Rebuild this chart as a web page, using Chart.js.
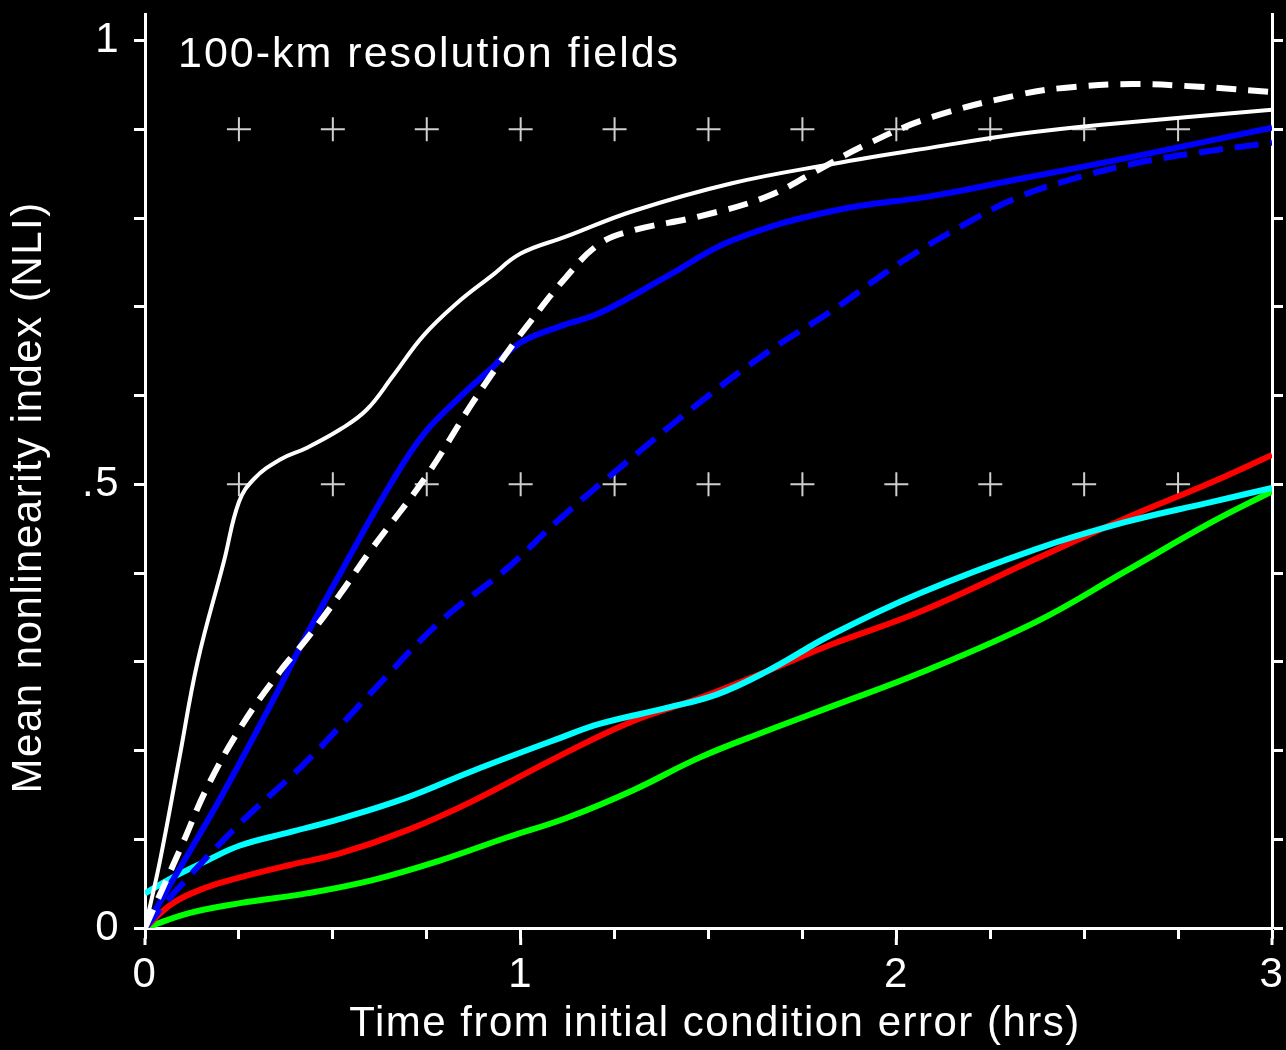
<!DOCTYPE html>
<html>
<head>
<meta charset="utf-8">
<title>Mean nonlinearity index</title>
<script src="https://cdn.jsdelivr.net/npm/chart.js@4.4.1/dist/chart.umd.min.js"></script>
<style>
    html, body { margin: 0; padding: 0; background: #000; }
    canvas { display: block; }
</style>
</head>
<body>
<canvas id="nliChart" width="1286" height="1050"></canvas>
<script>
// values (time in hrs, NLI)
const whiteSolidX = [0, 0.04, 0.09, 0.14, 0.21, 0.25, 0.29, 0.36, 0.43, 0.52, 0.59, 0.66, 0.74, 0.83, 0.92, 1.0, 1.12, 1.3, 1.56, 1.83, 2.1, 2.33, 2.54, 3.0];
const whiteSolidY = [0, 0.076, 0.188, 0.30, 0.413, 0.48, 0.506, 0.528, 0.541, 0.562, 0.584, 0.622, 0.667, 0.704, 0.734, 0.76, 0.779, 0.808, 0.839, 0.861, 0.88, 0.895, 0.905, 0.922];

const whiteDashX = [0, 0.10, 0.165, 0.253, 0.359, 0.431, 0.519, 0.598, 0.75, 0.872, 0.963, 1.016, 1.122, 1.21, 1.298, 1.476, 1.654, 1.787, 1.92, 2.096, 2.327, 2.452, 2.628, 2.806, 3.0];
const whiteDashY = [0, 0.095, 0.158, 0.225, 0.289, 0.326, 0.376, 0.424, 0.51, 0.592, 0.648, 0.678, 0.734, 0.771, 0.786, 0.802, 0.824, 0.853, 0.883, 0.914, 0.939, 0.947, 0.951, 0.948, 0.942];

const blueSolidX = [0, 0.074, 0.207, 0.34, 0.431, 0.537, 0.652, 0.739, 0.83, 0.918, 0.997, 1.104, 1.21, 1.388, 1.564, 1.83, 2.096, 2.327, 2.628, 3.0];
const blueSolidY = [0, 0.054, 0.151, 0.256, 0.331, 0.413, 0.499, 0.555, 0.595, 0.629, 0.659, 0.678, 0.693, 0.734, 0.775, 0.808, 0.825, 0.844, 0.869, 0.902];

const blueDashX = [0, 0.085, 0.253, 0.431, 0.606, 0.785, 0.963, 1.104, 1.282, 1.476, 1.654, 1.83, 2.008, 2.186, 2.327, 2.452, 2.628, 2.806, 3.0];
const blueDashY = [0, 0.043, 0.118, 0.188, 0.267, 0.345, 0.405, 0.461, 0.525, 0.592, 0.648, 0.696, 0.749, 0.794, 0.824, 0.842, 0.861, 0.874, 0.885];

const cyanX = [0, 0.074, 0.165, 0.253, 0.386, 0.519, 0.697, 0.872, 1.104, 1.21, 1.388, 1.521, 1.654, 1.83, 2.061, 2.372, 2.606, 2.838, 3.0];
const cyanY = [0.039, 0.057, 0.076, 0.093, 0.108, 0.123, 0.147, 0.177, 0.214, 0.230, 0.248, 0.263, 0.289, 0.331, 0.377, 0.427, 0.457, 0.480, 0.496];

const redX = [0, 0.074, 0.165, 0.253, 0.386, 0.519, 0.697, 0.872, 1.104, 1.298, 1.476, 1.654, 1.83, 2.061, 2.372, 2.606, 2.838, 3.0];
const redY = [0, 0.028, 0.046, 0.057, 0.071, 0.084, 0.110, 0.143, 0.194, 0.233, 0.259, 0.289, 0.320, 0.356, 0.416, 0.461, 0.502, 0.533];

const greenX = [0, 0.12, 0.253, 0.431, 0.606, 0.785, 0.963, 1.122, 1.298, 1.476, 1.654, 1.83, 2.061, 2.372, 2.606, 2.838, 3.0];
const greenY = [0, 0.017, 0.028, 0.039, 0.054, 0.076, 0.102, 0.124, 0.155, 0.192, 0.222, 0.250, 0.287, 0.345, 0.401, 0.457, 0.492];

// "+" markers
const markerX = [0.25, 0.5, 0.75, 1, 1.25, 1.5, 1.75, 2, 2.25, 2.5, 2.75];
const markerY = [0.5, 0.9];

// ticks
const xTicks = [0, 0.25, 0.5, 0.75, 1, 1.25, 1.5, 1.75, 2, 2.25, 2.5, 2.75, 3];
const xTickLabels = ['0', '', '', '', '1', '', '', '', '2', '', '', '', '3'];
const yTicks = [0, 0.1, 0.2, 0.3, 0.4, 0.5, 0.6, 0.7, 0.8, 0.9, 1];
const yTickLabels = ['0', '', '', '', '', '.5', '', '', '', '', '1'];

const FONT = "'Liberation Sans', Arial, Helvetica, sans-serif";

function toPoints(xs, ys) {
    return xs.map((x, i) => ({ x: x, y: ys[i] }));
}

function markerPoints() {
    const pts = [];
    markerY.forEach(y => markerX.forEach(x => pts.push({ x: x, y: y })));
    return pts;
}

function curve(label, xs, ys, color, width, dash) {
    return {
        label: label,
        data: toPoints(xs, ys),
        borderColor: color,
        borderWidth: width,
        borderDash: dash || [],
        borderCapStyle: 'butt',
        pointRadius: 0,
        fill: false,
        tension: 0.4
    };
}

// drop the extra room chart.js keeps for overflowing tick labels
function noOverflow(scale) {
    scale.paddingTop = 0;
    scale.paddingBottom = 0;
    scale.paddingLeft = 0;
    scale.paddingRight = 0;
}

const annotationText = {
    id: 'annotationText',
    beforeDraw(chart) {
        chart.ctx.letterSpacing = '1.5px';
    },
    afterDatasetsDraw(chart) {
        const ctx = chart.ctx;
        ctx.save();
        ctx.letterSpacing = '2px';
        ctx.fillStyle = '#fff';
        ctx.font = "43px " + FONT;
        ctx.textBaseline = 'alphabetic';
        ctx.textAlign = 'left';
        ctx.fillText('100-km resolution fields', 178, 67);
        ctx.restore();

        // integer hours get a slightly longer tick
        const x = chart.scales.x;
        ctx.save();
        ctx.strokeStyle = '#fff';
        ctx.lineWidth = 3;
        xTicks.forEach((v, i) => {
            if (!xTickLabels[i]) return;
            const px = x.getPixelForValue(v);
            ctx.beginPath();
            ctx.moveTo(px, x.top + 10);
            ctx.lineTo(px, x.top + 17);
            ctx.stroke();
        });
        ctx.restore();
    }
};

function axisLine(extra) {
    return Object.assign({
        display: true,
        drawOnChartArea: false,
        drawTicks: true,
        tickLength: 11,
        tickWidth: 3,
        tickColor: '#fff'
    }, extra || {});
}

const ctx = document.getElementById('nliChart').getContext('2d');
new Chart(ctx, {
    type: 'line',
    data: {
        datasets: [
            curve('white solid', whiteSolidX, whiteSolidY, '#ffffff', 4),
            curve('white dashed', whiteDashX, whiteDashY, '#ffffff', 6, [20, 12]),
            curve('blue solid', blueSolidX, blueSolidY, '#0000ff', 6),
            curve('blue dashed', blueDashX, blueDashY, '#0000ff', 6, [24, 12]),
            curve('cyan', cyanX, cyanY, '#00ffff', 6),
            curve('red', redX, redY, '#ff0000', 6),
            curve('green', greenX, greenY, '#00ff00', 6),
            {
                label: 'markers',
                data: markerPoints(),
                showLine: false,
                pointStyle: 'cross',
                pointRadius: 12,
                pointBorderWidth: 2,
                pointBorderColor: '#cfcfcf',
                pointBackgroundColor: '#cfcfcf'
            }
        ]
    },
    options: {
        responsive: false,
        animation: false,
        devicePixelRatio: 1,
        layout: { padding: { top: 10, left: 0, right: 0, bottom: 0 } },
        plugins: {
            legend: { display: false },
            tooltip: { enabled: false }
        },
        scales: {
            x: {
                type: 'linear',
                position: 'bottom',
                min: 0,
                max: 3,
                afterBuildTicks: scale => { scale.ticks = xTicks.map(v => ({ value: v })); },
                afterFit: scale => { scale.height = 122; noOverflow(scale); },
                ticks: {
                    autoSkip: false,
                    maxRotation: 0,
                    padding: 11,
                    color: '#fff',
                    font: { family: FONT, size: 42 },
                    callback: (value, i) => xTickLabels[i]
                },
                grid: axisLine({ tickLength: 11 }),
                border: { display: true, color: '#fff', width: 3 },
                title: {
                    display: true,
                    text: ' Time from initial condition error (hrs)',
                    color: '#fff',
                    font: { family: FONT, size: 42 },
                    padding: { top: 0, bottom: 0 }
                }
            },
            y: {
                type: 'linear',
                position: 'left',
                min: 0,
                max: 1.03,
                afterBuildTicks: scale => { scale.ticks = yTicks.map(v => ({ value: v })); },
                afterFit: scale => { scale.width = 145; noOverflow(scale); },
                ticks: {
                    autoSkip: false,
                    padding: 14,
                    color: '#fff',
                    font: { family: FONT, size: 42 },
                    callback: (value, i) => yTickLabels[i]
                },
                grid: axisLine(),
                border: { display: true, color: '#fff', width: 3 },
                title: {
                    display: true,
                    text: 'Mean nonlinearity index (NLI)    ',
                    color: '#fff',
                    font: { family: FONT, size: 42 },
                    padding: { top: 4, bottom: 0 }
                }
            },
            y2: {
                type: 'linear',
                position: 'right',
                min: 0,
                max: 1.03,
                afterBuildTicks: scale => { scale.ticks = yTicks.map(v => ({ value: v })); },
                afterFit: scale => { scale.width = 11; noOverflow(scale); },
                ticks: { display: false },
                grid: axisLine(),
                border: { display: true, color: '#fff', width: 3 }
            }
        }
    },
    plugins: [annotationText]
});
</script>
</body>
</html>
